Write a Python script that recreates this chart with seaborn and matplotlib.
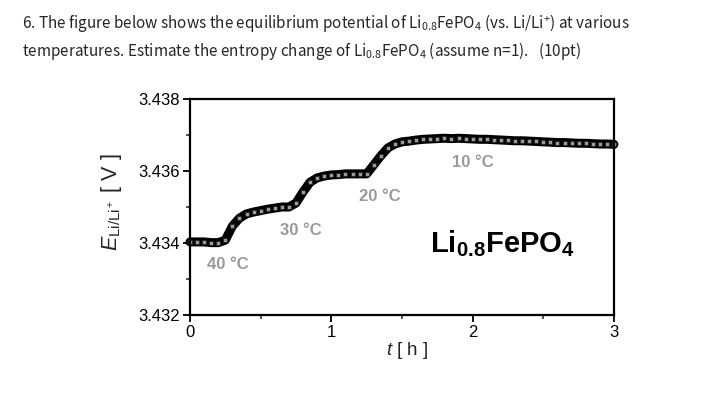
import numpy as np
import pandas as pd
import matplotlib
matplotlib.use("Agg")
import matplotlib.pyplot as plt
import seaborn as sns
from matplotlib.ticker import MultipleLocator, FormatStrFormatter

# ---- data ----
time_h = [0.00, 0.05, 0.10, 0.15, 0.20, 0.25, 0.30, 0.35, 0.40, 0.45,
          0.50, 0.55, 0.60, 0.65, 0.70, 0.75, 0.80, 0.85, 0.90, 0.95,
          1.00, 1.05, 1.10, 1.15, 1.20, 1.25, 1.30, 1.35, 1.40, 1.45,
          1.50, 1.55, 1.60, 1.65, 1.70, 1.75, 1.80, 1.85, 1.90, 1.95,
          2.00, 2.05, 2.10, 2.15, 2.20, 2.25, 2.30, 2.35, 2.40, 2.45,
          2.50, 2.55, 2.60, 2.65, 2.70, 2.75, 2.80, 2.85, 2.90, 2.95, 3.00]
potential_v = [3.43403, 3.43403, 3.43403, 3.43401, 3.43401, 3.43408, 3.43447, 3.43469, 3.43481, 3.43486,
               3.43490, 3.43494, 3.43497, 3.43500, 3.43500, 3.43511, 3.43542, 3.43569, 3.43581, 3.43586,
               3.43589, 3.43590, 3.43592, 3.43592, 3.43592, 3.43592, 3.43617, 3.43642, 3.43664, 3.43675,
               3.43681, 3.43683, 3.43686, 3.43688, 3.43689, 3.43690, 3.43691, 3.43690, 3.43691, 3.43690,
               3.43689, 3.43688, 3.43688, 3.43687, 3.43686, 3.43685, 3.43684, 3.43684, 3.43683, 3.43682,
               3.43681, 3.43680, 3.43679, 3.43679, 3.43678, 3.43677, 3.43677, 3.43676, 3.43675, 3.43675, 3.43674]

temp_labels = ["40 °C", "30 °C", "20 °C", "10 °C"]
temp_label_t = [0.27, 0.785, 1.34, 2.0]
temp_label_e = [3.43339, 3.43436, 3.43528, 3.43625]

x_ticks = [0, 1, 2, 3]
y_ticks = [3.432, 3.434, 3.436, 3.438]

header_line1 = ("6. The figure below shows the equilibrium potential of "
                r"Li$_\mathregular{0.8}$FePO$_\mathregular{4}$ (vs. Li/Li$^\mathregular{+}$) at various")
header_line2 = ("temperatures. Estimate the entropy change of "
                r"Li$_\mathregular{0.8}$FePO$_\mathregular{4}$ (assume n=1).   (10pt)")

# ---- style ----
sns.set_style("ticks")
plt.rcParams["font.family"] = ["Liberation Sans", "DejaVu Sans"]
plt.rcParams["mathtext.fontset"] = "custom"
plt.rcParams["mathtext.rm"] = "Liberation Sans"
plt.rcParams["mathtext.it"] = "Liberation Sans:italic"
plt.rcParams["mathtext.bf"] = "Liberation Sans:bold"

fig = plt.figure(figsize=(7.03, 3.93), dpi=100)
fig.patch.set_facecolor("white")

ax = fig.add_axes([190 / 703, 1 - 315 / 393, 424 / 703, 216 / 393])
df = pd.DataFrame({"t": time_h, "E": potential_v})
sns.lineplot(data=df, x="t", y="E", ax=ax, color="black", linewidth=6.5,
             marker="s", markersize=3.2, markerfacecolor="#9a9a9a",
             markeredgecolor="#222222", markeredgewidth=0.6, clip_on=False)

ax.set_xlim(0, 3)
ax.set_ylim(3.432, 3.438)
ax.set_xticks(x_ticks)
ax.set_yticks(y_ticks)
ax.xaxis.set_minor_locator(MultipleLocator(0.5))
ax.yaxis.set_minor_locator(MultipleLocator(0.001))
ax.yaxis.set_major_formatter(FormatStrFormatter("%.3f"))
ax.tick_params(which="major", direction="out", length=5, width=1.3,
               labelsize=12, colors="black", pad=2)
ax.tick_params(which="minor", direction="out", length=3, width=1.1)
for sp in ax.spines.values():
    sp.set_visible(True)
    sp.set_linewidth(1.6)
    sp.set_color("black")

ax.set_xlabel(r"$\mathit{t}$ [ h ]", fontsize=13.5)
ax.xaxis.set_label_coords(0.512, -0.116)
ax.set_ylabel(r"$\mathit{E}_{\mathregular{Li/Li^+}}$ [ V ]", fontsize=15.5)
ax.yaxis.set_label_coords(-0.155, 0.52)

for lab, tt, ee in zip(temp_labels, temp_label_t, temp_label_e):
    ax.text(tt, ee, lab, ha="center", va="center", fontsize=12,
            color="#999999", fontweight="bold")

ax.text(1.696, 3.43375, r"Li$_{\mathbf{0.8}}$FePO$_{\mathbf{4}}$",
        ha="left", va="baseline", fontsize=21, fontweight="bold", color="black")

hdr_font = ["Noto Sans CJK KR", "DejaVu Sans"]
fig.text(22 / 703, 1 - 28 / 393, header_line1, fontsize=11,
         family=hdr_font, va="baseline", ha="left")
fig.text(22 / 703, 1 - 56 / 393, header_line2, fontsize=11,
         family=hdr_font, va="baseline", ha="left")

fig.savefig("out.png", dpi=100, facecolor="white")
